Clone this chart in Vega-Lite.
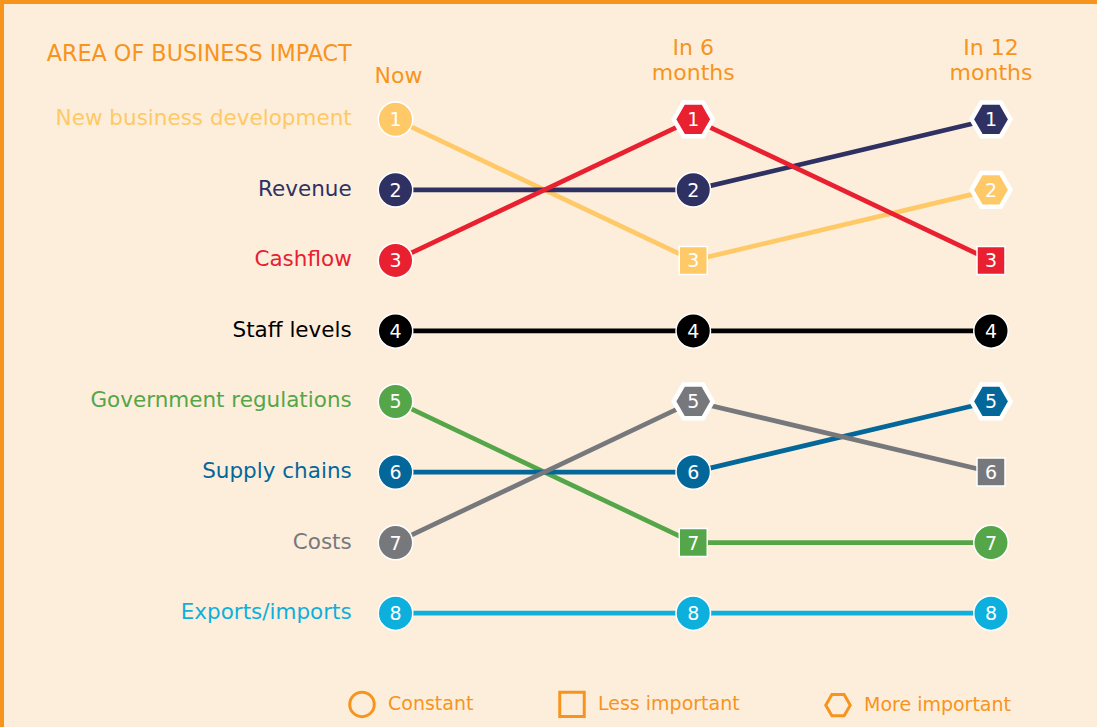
{
  "$schema": "https://vega.github.io/schema/vega-lite/v6.json",
  "width": 1097,
  "height": 727,
  "autosize": {"type": "none"},
  "padding": 0,
  "background": "#FDEEDC",
  "config": {"view": {"stroke": null}, "font": "DejaVu Sans"},
  "datasets": {
    "ranks": [
      {"area": "New business development", "period": 0, "rank": 1, "status": "Constant"},
      {"area": "New business development", "period": 1, "rank": 3, "status": "Less important"},
      {"area": "New business development", "period": 2, "rank": 2, "status": "More important"},
      {"area": "Revenue", "period": 0, "rank": 2, "status": "Constant"},
      {"area": "Revenue", "period": 1, "rank": 2, "status": "Constant"},
      {"area": "Revenue", "period": 2, "rank": 1, "status": "More important"},
      {"area": "Cashflow", "period": 0, "rank": 3, "status": "Constant"},
      {"area": "Cashflow", "period": 1, "rank": 1, "status": "More important"},
      {"area": "Cashflow", "period": 2, "rank": 3, "status": "Less important"},
      {"area": "Staff levels", "period": 0, "rank": 4, "status": "Constant"},
      {"area": "Staff levels", "period": 1, "rank": 4, "status": "Constant"},
      {"area": "Staff levels", "period": 2, "rank": 4, "status": "Constant"},
      {"area": "Government regulations", "period": 0, "rank": 5, "status": "Constant"},
      {"area": "Government regulations", "period": 1, "rank": 7, "status": "Less important"},
      {"area": "Government regulations", "period": 2, "rank": 7, "status": "Constant"},
      {"area": "Supply chains", "period": 0, "rank": 6, "status": "Constant"},
      {"area": "Supply chains", "period": 1, "rank": 6, "status": "Constant"},
      {"area": "Supply chains", "period": 2, "rank": 5, "status": "More important"},
      {"area": "Costs", "period": 0, "rank": 7, "status": "Constant"},
      {"area": "Costs", "period": 1, "rank": 5, "status": "More important"},
      {"area": "Costs", "period": 2, "rank": 6, "status": "Less important"},
      {"area": "Exports/imports", "period": 0, "rank": 8, "status": "Constant"},
      {"area": "Exports/imports", "period": 1, "rank": 8, "status": "Constant"},
      {"area": "Exports/imports", "period": 2, "rank": 8, "status": "Constant"}
    ],
    "headers": [
      {"period": 0, "label": "Now"},
      {"period": 1, "label": "In 6\nmonths"},
      {"period": 2, "label": "In 12\nmonths"}
    ],
    "title": [
      {"label": "AREA OF BUSINESS IMPACT"}
    ]
  },
  "layer": [
    {
      "data": {"name": "title"},
      "mark": {"type": "rule", "color": "#F7941D", "strokeWidth": 8},
      "encoding": {
        "x": {"datum": -1.3283, "type": "quantitative", "scale": {"domain": [-1.3283, 2.356], "nice": false, "zero": false}, "axis": null},
        "y": {"datum": -0.691, "type": "quantitative", "scale": {"domain": [-0.691, 9.614], "reverse": true, "nice": false, "zero": false}, "axis": null},
        "y2": {"datum": 9.614}
      }
    },
    {
      "data": {"name": "title"},
      "mark": {"type": "rule", "color": "#F7941D", "strokeWidth": 8},
      "encoding": {
        "x": {"datum": -1.3283, "type": "quantitative"},
        "x2": {"datum": 2.356},
        "y": {"datum": -0.691, "type": "quantitative"}
      }
    },
    {
      "data": {"name": "ranks"},
      "mark": {"type": "line", "strokeWidth": 4.7},
      "encoding": {
        "x": {"field": "period", "type": "quantitative"},
        "y": {"field": "rank", "type": "quantitative"},
        "color": {
          "field": "area", "type": "nominal", "legend": null,
          "scale": {
            "domain": ["New business development", "Revenue", "Cashflow", "Staff levels", "Government regulations", "Supply chains", "Costs", "Exports/imports"],
            "range": ["#FEC966", "#2F3163", "#E8202F", "#000000", "#54A648", "#04679A", "#77787C", "#0DB0DC"]
          }
        },
        "detail": {"field": "area"},
        "order": {"field": "period"}
      }
    },
    {
      "data": {"name": "ranks"},
      "transform": [{"filter": "datum.status == 'Constant'"}],
      "mark": {"type": "point", "filled": true, "opacity": 1, "stroke": "white", "strokeWidth": 1.5, "size": 1190},
      "encoding": {
        "x": {"field": "period", "type": "quantitative"},
        "y": {"field": "rank", "type": "quantitative"},
        "color": {"field": "area", "type": "nominal", "legend": null},
        "shape": {
          "field": "status", "type": "nominal",
          "scale": {"domain": ["Constant", "Less important", "More important"], "range": ["circle", "square", "M-1,0L-0.5,-0.866L0.5,-0.866L1,0L0.5,0.866L-0.5,0.866Z"]},
          "legend": {
            "orient": "none", "legendX": 348, "legendY": 690, "direction": "horizontal", "title": null,
            "labelFont": "DejaVu Sans", "labelFontSize": 19, "labelColor": "#F7941D",
            "symbolSize": 600, "symbolStrokeWidth": 3, "symbolStrokeColor": "#F7941D", "symbolFillColor": "transparent",
            "labelOffset": 12, "columnPadding": 79
          }
        }
      }
    },
    {
      "data": {"name": "ranks"},
      "transform": [{"filter": "datum.status == 'Less important'"}],
      "mark": {"type": "point", "filled": true, "opacity": 1, "stroke": "white", "strokeWidth": 1.5, "size": 784},
      "encoding": {
        "x": {"field": "period", "type": "quantitative"},
        "y": {"field": "rank", "type": "quantitative"},
        "color": {"field": "area", "type": "nominal", "legend": null},
        "shape": {"field": "status", "type": "nominal"}
      }
    },
    {
      "data": {"name": "ranks"},
      "transform": [{"filter": "datum.status == 'More important'"}],
      "mark": {"type": "point", "filled": true, "opacity": 1, "stroke": "white", "strokeWidth": 4.5, "size": 1520},
      "encoding": {
        "x": {"field": "period", "type": "quantitative"},
        "y": {"field": "rank", "type": "quantitative"},
        "color": {"field": "area", "type": "nominal", "legend": null},
        "shape": {"field": "status", "type": "nominal"}
      }
    },
    {
      "data": {"name": "ranks"},
      "mark": {"type": "text", "color": "white", "fontSize": 19, "baseline": "middle", "align": "center", "dy": 1},
      "encoding": {
        "x": {"field": "period", "type": "quantitative"},
        "y": {"field": "rank", "type": "quantitative"},
        "text": {"field": "rank"}
      }
    },
    {
      "data": {"name": "ranks"},
      "transform": [{"filter": "datum.period == 0"}],
      "mark": {"type": "text", "fontSize": 21.5, "baseline": "middle", "align": "right"},
      "encoding": {
        "x": {"datum": -0.147, "type": "quantitative"},
        "y": {"field": "rank", "type": "quantitative"},
        "text": {"field": "area"},
        "color": {"field": "area", "type": "nominal", "legend": null}
      }
    },
    {
      "data": {"name": "title"},
      "mark": {"type": "text", "fontSize": 22.3, "baseline": "alphabetic", "align": "right", "color": "#F7941D"},
      "encoding": {
        "x": {"datum": -0.147, "type": "quantitative"},
        "y": {"datum": 0.175, "type": "quantitative"},
        "text": {"field": "label"}
      }
    },
    {
      "data": {"name": "headers"},
      "transform": [{"filter": "datum.period == 0"}],
      "mark": {"type": "text", "fontSize": 22, "baseline": "alphabetic", "align": "center", "color": "#F7941D", "dx": 3},
      "encoding": {
        "x": {"field": "period", "type": "quantitative"},
        "y": {"datum": 0.4855, "type": "quantitative"},
        "text": {"field": "label"}
      }
    },
    {
      "data": {"name": "headers"},
      "transform": [{"filter": "datum.period > 0"}],
      "mark": {"type": "text", "fontSize": 22, "baseline": "alphabetic", "align": "center", "color": "#F7941D", "lineBreak": "\n", "lineHeight": 25},
      "encoding": {
        "x": {"field": "period", "type": "quantitative"},
        "y": {"datum": 0.0886, "type": "quantitative"},
        "text": {"field": "label"}
      }
    }
  ]
}
